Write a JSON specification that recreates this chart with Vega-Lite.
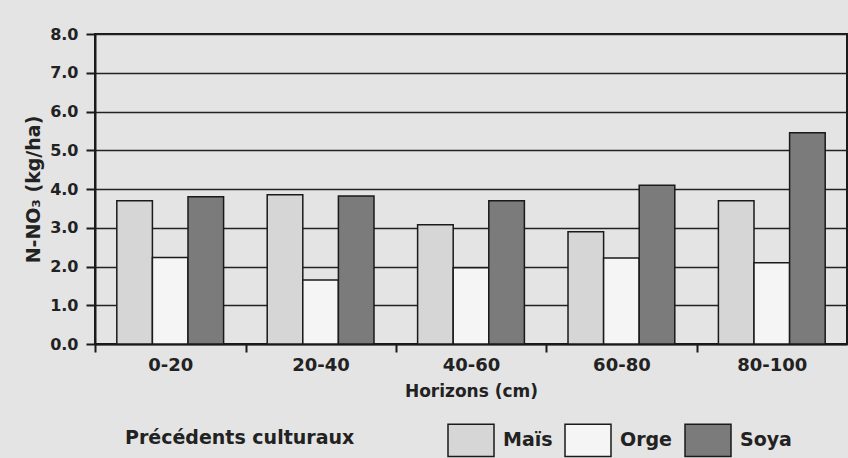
{
  "$schema": "https://vega.github.io/schema/vega-lite/v6.json",
  "width": 752,
  "height": 310,
  "autosize": {"type": "none"},
  "padding": {"left": 95, "top": 34, "right": 1, "bottom": 114},
  "background": "#e4e4e4",
  "config": {
    "view": {"stroke": "#1a1a1a", "strokeWidth": 2},
    "font": "DejaVu Sans"
  },
  "data": {
    "values": [
      {"horizon": "0-20", "precedent": "Maïs", "value": 3.7},
      {"horizon": "0-20", "precedent": "Orge", "value": 2.23},
      {"horizon": "0-20", "precedent": "Soya", "value": 3.8},
      {"horizon": "20-40", "precedent": "Maïs", "value": 3.85},
      {"horizon": "20-40", "precedent": "Orge", "value": 1.65},
      {"horizon": "20-40", "precedent": "Soya", "value": 3.82},
      {"horizon": "40-60", "precedent": "Maïs", "value": 3.08},
      {"horizon": "40-60", "precedent": "Orge", "value": 1.97},
      {"horizon": "40-60", "precedent": "Soya", "value": 3.7},
      {"horizon": "60-80", "precedent": "Maïs", "value": 2.9},
      {"horizon": "60-80", "precedent": "Orge", "value": 2.22},
      {"horizon": "60-80", "precedent": "Soya", "value": 4.1},
      {"horizon": "80-100", "precedent": "Maïs", "value": 3.7},
      {"horizon": "80-100", "precedent": "Orge", "value": 2.1},
      {"horizon": "80-100", "precedent": "Soya", "value": 5.45}
    ]
  },
  "mark": {"type": "bar", "stroke": "#1a1a1a", "strokeWidth": 1.5},
  "encoding": {
    "x": {
      "field": "horizon",
      "type": "nominal",
      "sort": ["0-20", "20-40", "40-60", "60-80", "80-100"],
      "scale": {"paddingInner": 0.29, "paddingOuter": 0.145},
      "axis": {
        "title": "Horizons (cm)",
        "labelAngle": 0,
        "bandPosition": 0.5,
        "tickOffset": -75,
        "labelOffset": 75,
        "tickSize": 8,
        "tickWidth": 2,
        "tickColor": "#1a1a1a",
        "domainColor": "#1a1a1a",
        "domainWidth": 2,
        "labelFont": "DejaVu Sans",
        "labelFontWeight": "bold",
        "labelFontSize": 18,
        "labelColor": "#222222",
        "labelPadding": 4,
        "titleFont": "DejaVu Sans",
        "titleFontWeight": "bold",
        "titleFontSize": 17,
        "titleColor": "#222222",
        "titlePadding": 9,
        "grid": false
      }
    },
    "xOffset": {
      "field": "precedent",
      "type": "nominal",
      "sort": ["Maïs", "Orge", "Soya"],
      "scale": {"paddingInner": 0, "paddingOuter": 0}
    },
    "y": {
      "field": "value",
      "type": "quantitative",
      "scale": {"domain": [0, 8], "nice": false},
      "axis": {
        "title": "N-NO₃ (kg/ha)",
        "values": [0, 1, 2, 3, 4, 5, 6, 7, 8],
        "format": ".1f",
        "grid": true,
        "gridColor": "#222222",
        "gridWidth": 1.6,
        "gridOpacity": 1,
        "domainColor": "#1a1a1a",
        "domainWidth": 2,
        "tickColor": "#1a1a1a",
        "tickSize": 9,
        "tickWidth": 2,
        "labelFont": "DejaVu Sans",
        "labelFontWeight": "bold",
        "labelFontSize": 16,
        "labelColor": "#222222",
        "labelPadding": 8,
        "titleFont": "DejaVu Sans",
        "titleFontWeight": "bold",
        "titleFontSize": 19,
        "titleColor": "#222222",
        "titlePadding": 6
      }
    },
    "color": {
      "field": "precedent",
      "type": "nominal",
      "sort": ["Maïs", "Orge", "Soya"],
      "scale": {"domain": ["Maïs", "Orge", "Soya"], "range": ["#d6d6d6", "#f5f5f5", "#7b7b7b"]},
      "legend": {
        "title": "Précédents culturaux",
        "orient": "none",
        "legendX": 30,
        "legendY": 382,
        "direction": "horizontal",
        "titleOrient": "left",
        "titlePadding": 92,
        "titleLimit": 500,
        "titleFont": "DejaVu Sans",
        "titleFontWeight": "bold",
        "titleFontSize": 19,
        "titleColor": "#222222",
        "titleBaseline": "middle",
        "labelFont": "DejaVu Sans",
        "labelFontWeight": "bold",
        "labelFontSize": 19,
        "labelColor": "#222222",
        "labelOffset": 8,
        "labelLimit": 300,
        "columnPadding": 9,
        "padding": 0,
        "symbolType": "M-1,-0.7H1V0.7H-1Z",
        "symbolSize": 2116,
        "symbolStrokeColor": "#1a1a1a",
        "symbolStrokeWidth": 1.5,
        "symbolOpacity": 1
      }
    }
  }
}
